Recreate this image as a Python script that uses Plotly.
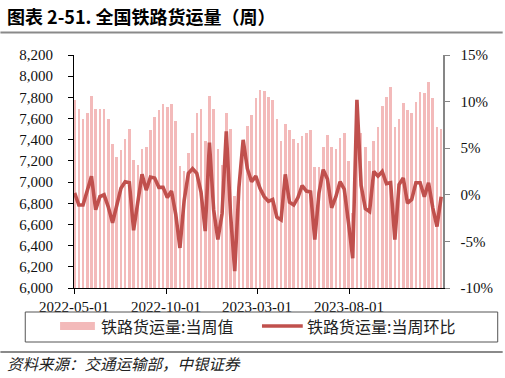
import pandas as pd
import plotly.graph_objects as go

# ---------------- data ----------------
start_date = "2022-05-02"
weekly_value = [
    7778, 7689, 7594, 7657, 7816, 7689, 7689, 7689, 7594, 7356,
    7238, 7302, 7403, 7498, 7213, 7165, 7308, 7333, 7492, 7619,
    7679, 7737, 7705, 7736, 7578, 7149, 7101, 7276, 7467, 7651,
    7689, 7387, 7810, 7689, 7314, 7165, 7651, 7498, 6870, 6924,
    7332, 7530, 7632, 7790, 7870, 7863, 7806, 7778, 7594, 7384,
    7552, 7489, 7403, 7365, 7435, 7467, 7489, 7140, 7146, 7333,
    7448, 7333, 7314, 7419, 7467, 7203, 6706, 7390, 7460, 7333,
    7203, 7387, 7524, 7714, 7800, 7895, 7524, 7600, 7746, 7679,
    7651, 7752, 7848, 7841, 7943, 7790, 7524, 7498,
]
weekly_wow_pct = [
    0.2, -1.1, -1.1, 0.5, 2.0, -1.6, -0.2, 0.0, -1.3, -3.0,
    -1.3, 0.7, 1.4, 1.3, -3.8, -0.8, 2.2, 0.5, 1.9, 1.8,
    0.8, 0.8, -0.3, 0.4, -2.1, -5.7, -0.6, 2.3, 2.8, 2.3,
    0.3, -3.9, 5.6, -1.6, -4.8, -2.0, 6.8, -2.0, -8.2, 0.8,
    5.9, 2.8, 1.4, 2.0, 0.7, -0.2, -0.7, -0.5, -2.4, -2.7,
    2.2, -0.8, -1.1, -0.3, 1.0, 0.4, 0.3, -4.8, 0.2, 2.7,
    1.7, -1.4, -0.2, 1.4, 0.6, -3.0, -6.8, 10.2, 1.0, -1.5,
    -1.8, 2.5, 2.0, 2.5, 1.2, 1.3, -4.8, 1.1, 1.8, -0.9,
    -0.5, 1.3, 1.3, -0.2, 1.3, -1.4, -3.4, -0.2,
]
dates = pd.date_range(start_date, periods=len(weekly_value), freq="7D")

left_tickvals = list(range(6000, 8201, 200))
left_ticktext = [f"{v:,}" for v in left_tickvals]
right_tickvals = [-10, -5, 0, 5, 10, 15]
right_ticktext = [f"{v}%" for v in right_tickvals]
x_tickvals = ["2022-05-01", "2022-10-01", "2023-03-01", "2023-08-01"]
x_ticktext = x_tickvals

series_names = ["铁路货运量:当周值", "铁路货运量:当周环比"]
title_text = "图表 2-51. 全国铁路货运量（周）"
source_text = "资料来源：交通运输部，中银证券"

# ---------------- style ----------------
W, H = 505, 378
ML, MR, MT, MB = 74, 60, 55, 90
PW, PH = W - ML - MR, H - MT - MB
BAR_COLOR = "#F3BABA"
LINE_COLOR = "#C0504D"
NUM_FONT = "Liberation Serif"
CJK_FONT = "Noto Sans CJK SC"


def px(x):
    return (x - ML) / PW


def py(y):
    return (H - MB - y) / PH


fig = go.Figure()
fig.add_trace(go.Bar(
    x=dates, y=weekly_value, name=series_names[0],
    marker=dict(color=BAR_COLOR, line=dict(width=0)),
    width=4.3 * 86400000, yaxis="y", showlegend=False,
))
fig.add_trace(go.Scatter(
    x=dates, y=weekly_wow_pct, name=series_names[1], mode="lines",
    line=dict(color=LINE_COLOR, width=3.6), yaxis="y2", showlegend=False,
))

fig.update_layout(
    width=W, height=H,
    margin=dict(l=ML, r=MR, t=MT, b=MB),
    paper_bgcolor="white", plot_bgcolor="white",
    bargap=0,
    xaxis=dict(
        type="date", range=["2022-05-01", "2024-01-04"],
        tickvals=x_tickvals, ticktext=x_ticktext,
        ticks="outside", ticklen=5, tickcolor="#000", tickwidth=1,
        showline=True, linecolor="#000", linewidth=1,
        showgrid=False, zeroline=False,
        tickfont=dict(family=NUM_FONT, size=15, color="#111"),
    ),
    yaxis=dict(
        range=[6000, 8200], tickvals=left_tickvals, ticktext=left_ticktext,
        ticks="outside", ticklen=5, tickcolor="#000", tickwidth=1,
        showline=True, linecolor="#000", linewidth=1,
        showgrid=False, zeroline=False, ticklabelstandoff=12,
        tickfont=dict(family=NUM_FONT, size=15, color="#111"),
    ),
    yaxis2=dict(
        range=[-10, 15], tickvals=right_tickvals, ticktext=right_ticktext,
        overlaying="y", side="right",
        ticks="outside", ticklen=5, tickcolor="#868686", tickwidth=1,
        showline=True, linecolor="#868686", linewidth=1.5,
        showgrid=False, zeroline=False, ticklabelstandoff=8,
        tickfont=dict(family=NUM_FONT, size=15, color="#111"),
    ),
)

shapes = []
# title underline
shapes.append(dict(type="line", xref="paper", yref="paper",
                   x0=px(0), x1=px(W), y0=py(32.5), y1=py(32.5),
                   line=dict(color="#8a8a8a", width=2)))
# legend box
shapes.append(dict(type="rect", xref="paper", yref="paper",
                   x0=px(25), x1=px(500), y0=py(342), y1=py(312),
                   line=dict(color="#555", width=1)))
# source separator
shapes.append(dict(type="line", xref="paper", yref="paper",
                   x0=px(0), x1=px(W), y0=py(352), y1=py(352),
                   line=dict(color="#8a8a8a", width=2)))
# legend swatches
shapes.append(dict(type="rect", xref="paper", yref="paper",
                   x0=px(60), x1=px(95), y0=py(330), y1=py(322),
                   fillcolor=BAR_COLOR, line=dict(width=0)))
shapes.append(dict(type="line", xref="paper", yref="paper",
                   x0=px(263), x1=px(304), y0=py(326), y1=py(326),
                   line=dict(color=LINE_COLOR, width=3.6)))
fig.update_layout(shapes=shapes)

ann = []
ann.append(dict(xref="paper", yref="paper", x=px(5), y=py(16),
                xanchor="left", yanchor="middle", showarrow=False,
                text="<b>" + title_text + "</b>",
                font=dict(family=CJK_FONT, size=18, color="#000")))
ann.append(dict(xref="paper", yref="paper", x=px(99), y=py(326),
                xanchor="left", yanchor="middle", showarrow=False,
                text=series_names[0],
                font=dict(family=CJK_FONT, size=16, color="#222")))
ann.append(dict(xref="paper", yref="paper", x=px(306), y=py(326),
                xanchor="left", yanchor="middle", showarrow=False,
                text=series_names[1],
                font=dict(family=CJK_FONT, size=16, color="#222")))
ann.append(dict(xref="paper", yref="paper", x=px(5), y=py(363),
                xanchor="left", yanchor="middle", showarrow=False,
                text="<i>" + source_text + "</i>",
                font=dict(family=CJK_FONT, size=15.5, color="#222")))
fig.update_layout(annotations=ann)

fig.write_html(
    "out.html",
    config={"displayModeBar": False, "staticPlot": True},
    post_script="document.body.style.margin='0px';document.body.style.overflow='hidden';",
)
